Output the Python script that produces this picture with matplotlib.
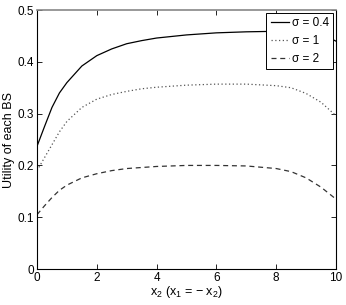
import numpy as np
import matplotlib
matplotlib.use("Agg")
import matplotlib.pyplot as plt

plt.rcParams['font.family'] = ['Liberation Sans', 'DejaVu Sans']
plt.rcParams['mathtext.default'] = 'regular'

x2 = [0, 0.25, 0.5, 0.75, 1, 1.5, 2, 2.5, 3, 3.5, 4, 5, 6, 7, 8, 8.5, 9, 9.5, 10]
u_s04 = [0.237, 0.275, 0.312, 0.340, 0.360, 0.392, 0.412, 0.425, 0.435, 0.441,
         0.446, 0.452, 0.456, 0.458, 0.459, 0.459, 0.458, 0.454, 0.440]
u_s1 = [0.190, 0.215, 0.240, 0.265, 0.285, 0.312, 0.328, 0.337, 0.343, 0.348,
        0.351, 0.355, 0.357, 0.357, 0.354, 0.350, 0.339, 0.322, 0.296]
u_s2 = [0.105, 0.122, 0.138, 0.152, 0.162, 0.176, 0.184, 0.190, 0.194, 0.196,
        0.198, 0.200, 0.200, 0.199, 0.194, 0.188, 0.176, 0.158, 0.135]
labels = ["σ = 0.4", "σ = 1", "σ = 2"]

fig = plt.figure(figsize=(3.46, 3.05), dpi=100)
ax = fig.add_axes([0.107, 0.118, 0.864, 0.849])

ax.plot(x2, u_s04, color="black", lw=0.9, ls="-", label=labels[0])
ax.plot(x2, u_s1, color="#555555", lw=0.9, ls=(0, (1, 2)), label=labels[1])
ax.plot(x2, u_s2, color="#333333", lw=0.9, ls=(0, (4, 3)), label=labels[2])

ax.set_xlim(0, 10)
ax.set_ylim(0, 0.5)
ax.set_xticks([0, 2, 4, 6, 8, 10])
ax.set_yticks([0, 0.1, 0.2, 0.3, 0.4, 0.5])
ax.set_yticklabels(["0", "0.1", "0.2", "0.3", "0.4", "0.5"])
ax.tick_params(direction="in", top=True, right=True, length=3.5, width=0.6,
               labelsize=8.5, pad=2)
for s in ax.spines.values():
    s.set_linewidth(0.8)
ax.spines['top'].set_color("#888888")
ax.spines['top'].set_linewidth(1.2)

ax.set_xlabel("x$_2$ (x$_1$ = − x$_2$)", fontsize=9, labelpad=0)
ax.set_ylabel("Utility of each BS", fontsize=9, labelpad=2)

leg = ax.legend(loc="upper right", fontsize=8.5, fancybox=False, framealpha=1,
                edgecolor="black", handlelength=1.6, handletextpad=0.2,
                borderpad=0.35, labelspacing=0.5, borderaxespad=0.25)
leg.get_frame().set_linewidth(0.7)

plt.savefig("out.png", dpi=100)
